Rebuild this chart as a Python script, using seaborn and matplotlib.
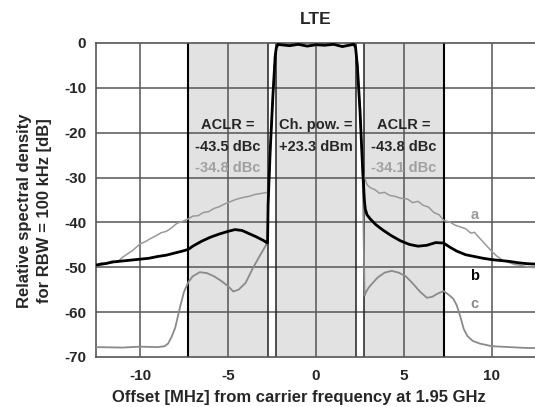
import numpy as np
import pandas as pd
import seaborn as sns
from matplotlib import pyplot as plt

# channel edges [MHz]: adjacent left, main, adjacent right
adj_left = (-7.25, -2.75)
main_ch = (-2.25, 2.25)
adj_right = (2.75, 7.25)

# main channel shape (shared by all three traces)
edge_x = [-2.72, -2.6, -2.45, -2.32, -2.25, -2.15, -2.0, -1.5, -1.0, -0.5, 0.0, 0.5, 1.0, 1.5, 2.0, 2.15,
          2.25, 2.35, 2.5, 2.65]
edge_y = [-36, -24, -12, -3, -1, -0.3, -0.4, -0.6, -0.3, -0.7, -0.4, -0.5, -0.3, -0.8, -0.4, -0.3,
          -1, -5, -15, -28]

# trace b (black)
b_left_x = [-12.5, -12.0, -11.5, -11.0, -10.5, -10.0, -9.5, -9.0, -8.5, -8.0, -7.5, -7.25, -7.0, -6.5, -6.0,
            -5.5, -5.0, -4.6, -4.2, -3.8, -3.4, -3.0, -2.8, -2.75]
b_left_y = [-49.5, -49.2, -48.8, -48.6, -48.4, -48.2, -48.0, -47.6, -47.3, -46.8, -46.3, -46.0, -45.3, -44.2,
            -43.3, -42.6, -42.0, -41.6, -41.8, -42.5, -43.2, -44.0, -44.5, -44.6]
b_right_x = [2.75, 2.8, 2.9, 3.1, 3.4, 3.8, 4.3, 4.8, 5.3, 5.8, 6.3, 6.8, 7.25, 7.6, 8.0, 8.5, 9.0, 9.5,
             10.0, 10.5, 11.0, 11.5, 12.0, 12.5]
b_right_y = [-35.0, -37.0, -38.3, -39.3, -40.5, -41.7, -43.0, -44.1, -44.9, -45.3, -45.1, -44.5, -44.6, -45.5,
             -46.4, -47.2, -47.6, -48.0, -48.3, -48.5, -48.7, -49.0, -49.2, -49.3]

# trace a (grey, upper)
a_left_x = [-12.5, -12.2, -11.9, -11.6, -11.3, -11.0, -10.7, -10.4, -10.0, -9.7, -9.4, -9.1, -8.8, -8.5, -8.2,
            -7.9, -7.6, -7.25, -7.0, -6.7, -6.4, -6.1, -5.8, -5.5, -5.2, -5.0, -4.7, -4.4, -4.1, -3.8, -3.5,
            -3.2, -2.9, -2.75]
a_left_y = [-49.6, -49.0, -49.3, -48.6, -48.9, -47.8, -47.0, -46.2, -44.8, -44.3, -43.6, -43.0, -42.3, -42.0,
            -41.2, -40.2, -39.8, -39.2, -38.6, -38.5, -37.8, -37.6, -36.9, -36.5, -35.9, -35.6, -35.1, -34.7,
            -34.4, -34.2, -33.8, -33.6, -33.4, -33.3]
a_right_x = [2.75, 2.8, 2.9, 3.1, 3.35, 3.6, 3.9, 4.2, 4.5, 4.8, 5.2, 5.5, 5.8, 6.1, 6.4, 6.7, 7.0, 7.27, 7.6,
             7.9, 8.2, 8.5, 8.8, 9.0, 9.3, 9.6, 10.0, 10.3, 10.6, 11.0, 11.3, 11.7, 12.1, 12.5]
a_right_y = [-30.0, -30.5, -31.6, -32.3, -32.7, -33.5, -33.3, -34.0, -34.2, -34.6, -34.8, -35.6, -35.3, -36.2,
             -36.6, -37.8, -38.3, -39.6, -39.9, -40.6, -41.0, -41.4, -42.4, -42.2, -43.5, -44.8, -46.5, -47.6,
             -48.4, -49.0, -49.4, -49.6, -50.0, -50.1]

# trace c (grey, lower)
c_left_x = [-12.5, -11.0, -10.0, -9.0, -8.6, -8.4, -8.2, -8.0, -7.85, -7.7, -7.5, -7.25, -7.0, -6.6, -6.2,
            -5.8, -5.4, -5.0, -4.7, -4.4, -4.0, -3.6, -3.2, -2.8, -2.75]
c_left_y = [-67.8, -67.9, -67.7, -67.8, -67.6, -67.0, -65.5, -63.5, -61.0, -58.5, -55.5, -53.3, -52.0, -51.1,
            -51.3, -52.0, -53.0, -54.2, -55.4, -55.0, -53.5, -50.3, -47.5, -44.8, -44.6]
c_right_x = [2.76, 2.85, 3.0, 3.2, 3.5, 3.9, 4.3, 4.7, 5.1, 5.5, 5.9, 6.3, 6.6, 6.9, 7.25, 7.5, 7.8,
             8.0, 8.2, 8.4, 8.6, 8.9, 9.3, 10.0, 11.0, 12.0, 12.5]
c_right_y = [-56.3, -55.5, -54.5, -53.6, -52.3, -51.2, -50.8, -51.2, -52.0, -53.6, -55.4, -56.8, -56.6,
             -55.9, -55.3, -56.0, -57.0, -58.5, -61.0, -63.8, -65.3, -66.4, -67.0, -67.6, -67.8, -68.0, -68.0]


def trace(lx, ly, rx, ry):
    return pd.DataFrame({'f': lx + edge_x + rx, 'p': ly + edge_y + ry})


df_a = trace(a_left_x, a_left_y, a_right_x, a_right_y)
df_b = trace(b_left_x, b_left_y, b_right_x, b_right_y)
df_c = trace(c_left_x, c_left_y, c_right_x, c_right_y)

sns.set_style('white')
plt.rcParams['font.family'] = ['Liberation Sans', 'DejaVu Sans']
plt.rcParams['font.weight'] = 'bold'
plt.rcParams['axes.unicode_minus'] = False

fig = plt.figure(figsize=(5.35, 4.07), dpi=100)
ax = fig.add_axes([0.1794, 0.1229, 0.8224, 0.7715])

grid_col = '#555555'
for lo, hi in (adj_left, main_ch, adj_right):
    ax.axvspan(lo, hi, color='#e2e2e2', zorder=0, lw=0)
for xv in (-10, -5, 0, 5, 10):
    ax.axvline(xv, color=grid_col, lw=1.1, zorder=1)
for yv in range(-60, 0, 10):
    ax.axhline(yv, color=grid_col, lw=1.1, zorder=1)
for xv in (adj_left[0], adj_right[1]):
    ax.axvline(xv, color='black', lw=1.5, zorder=2)
for xv in (adj_left[1], main_ch[0], main_ch[1], adj_right[0]):
    ax.axvline(xv, color='#222222', lw=1.1, zorder=2)

sns.lineplot(data=df_a, x='f', y='p', color='#999999', lw=1.1, estimator=None, ax=ax, zorder=3)
sns.lineplot(data=df_c, x='f', y='p', color='#8a8a8a', lw=1.3, estimator=None, ax=ax, zorder=3)
sns.lineplot(data=df_b, x='f', y='p', color='black', lw=2.0, estimator=None, ax=ax, zorder=4)

ax.set_xlim(-12.5, 12.5)
ax.set_ylim(-70, 0)
ax.set_xticks([-10, -5, 0, 5, 10])
ax.set_yticks(range(-70, 1, 10))
ax.tick_params(labelsize=11, length=0)
ax.tick_params(axis='x', pad=9)
ax.tick_params(axis='y', pad=7)
for lab in ax.get_xticklabels() + ax.get_yticklabels():
    lab.set_fontweight('bold')
for s in ax.spines.values():
    s.set_color(grid_col)
    s.set_linewidth(1.2)

ax.set_xlabel('Offset [MHz] from carrier frequency at 1.95 GHz', fontsize=12, fontweight='bold')
ax.xaxis.set_label_coords(0.461, -0.105)
ax.set_ylabel('Relative spectral density\nfor RBW = 100 kHz [dB]', fontsize=12, fontweight='bold',
              linespacing=1.45)
ax.yaxis.set_label_coords(-0.100, 0.465)

fs = 10.5
ax.text(-5, -18.3, 'ACLR =', ha='center', va='center', fontsize=fs, fontweight='bold')
ax.text(-5, -23.2, '-43.5 dBc', ha='center', va='center', fontsize=fs, fontweight='bold')
ax.text(-5, -27.9, '-34.8 dBc', ha='center', va='center', fontsize=fs, fontweight='bold', color='#a0a0a0')
ax.text(0, -18.3, 'Ch. pow. =', ha='center', va='center', fontsize=fs, fontweight='bold')
ax.text(0, -23.2, '+23.3 dBm', ha='center', va='center', fontsize=fs, fontweight='bold')
ax.text(5, -18.3, 'ACLR =', ha='center', va='center', fontsize=fs, fontweight='bold')
ax.text(5, -23.2, '-43.8 dBc', ha='center', va='center', fontsize=fs, fontweight='bold')
ax.text(5, -27.9, '-34.1 dBc', ha='center', va='center', fontsize=fs, fontweight='bold', color='#a0a0a0')

ax.text(9.0, -38.3, 'a', ha='center', va='center', fontsize=fs, color='#999999')
ax.text(9.0, -52.0, 'b', ha='center', va='center', fontsize=fs, fontweight='bold', color='black')
ax.text(9.0, -58.2, 'c', ha='center', va='center', fontsize=fs, color='#8a8a8a')

fig.text(316 / 535, 1 - 20 / 407, 'LTE', ha='center', va='center', fontsize=12.5, fontweight='bold')

fig.savefig('out.png', dpi=100)
